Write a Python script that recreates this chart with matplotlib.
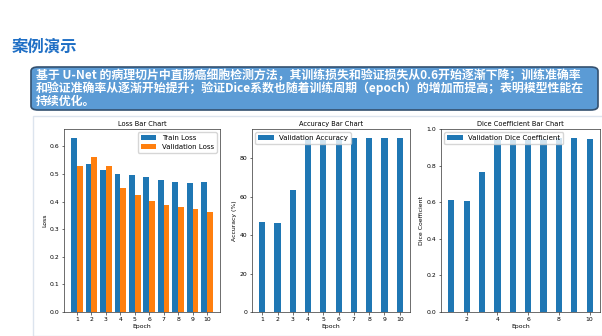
import matplotlib
matplotlib.use("Agg")
import matplotlib.pyplot as plt
from matplotlib.patches import FancyBboxPatch, Rectangle
import numpy as np

epochs = [1, 2, 3, 4, 5, 6, 7, 8, 9, 10]
train_loss = [0.631, 0.536, 0.514, 0.500, 0.495, 0.488, 0.477, 0.471, 0.468, 0.471]
val_loss = [0.530, 0.561, 0.530, 0.448, 0.424, 0.403, 0.387, 0.379, 0.373, 0.363]
val_acc = [47.0, 46.2, 63.5, 89.8, 89.6, 89.8, 90.6, 90.6, 90.2, 90.2]
val_dice = [0.615, 0.605, 0.768, 0.940, 0.940, 0.940, 0.945, 0.953, 0.953, 0.948]

slide_title = "案例演示"
box_lines = [
    "基于 U-Net 的病理切片中直肠癌细胞检测方法，其训练损失和验证损失从0.6开始逐渐下降；训练准确率",
    "和验证准确率从逐渐开始提升；验证Dice系数也随着训练周期（epoch）的增加而提高；表明模型性能在",
    "持续优化。",
]

W, H = 602, 336
fig = plt.figure(figsize=(W / 100, H / 100), dpi=100)
fig.patch.set_facecolor("white")
cjk = ["Noto Sans CJK SC", "DejaVu Sans"]

def fx(px):
    return px / W

def fy(py):
    return 1 - py / H

# Slide title
fig.text(fx(12), fy(47), slide_title, family=cjk, fontsize=11.8, fontweight="bold",
         color="#1f6fc5", va="center", ha="left")

# Blue rounded box
box = FancyBboxPatch((fx(31), fy(110)), fx(567), (110 - 67) / H,
                     boxstyle="round,pad=0,rounding_size=0.012",
                     transform=fig.transFigure, facecolor="#5b9bd5",
                     edgecolor="#34506e", linewidth=1.2, zorder=1)
fig.add_artist(box)
for i, line in enumerate(box_lines):
    fig.text(fx(36), fy(75.5 + i * 13), line, family=cjk, fontsize=8.6,
             fontweight="bold", color="white", va="center", ha="left", zorder=2)

# Embedded image frame
frame = Rectangle((fx(33), 0), fx(602 - 33) + 0.01, (336 - 116) / H,
                  transform=fig.transFigure, facecolor="white",
                  edgecolor="#dce4ee", linewidth=1.0, zorder=1)
fig.add_artist(frame)

small = 4.4
leg = 5.0
x = np.array(epochs)
w = 0.4

def style(ax):
    for s in ax.spines.values():
        s.set_linewidth(0.5)
        s.set_color("#333333")
    ax.tick_params(labelsize=small, length=1.8, width=0.4, pad=1.5)

ax1 = fig.add_axes([fx(64), 1 - 312 / H, fx(156), 183 / H], zorder=3)
ax1.bar(x - w / 2, train_loss, w, color="#1f77b4", label="Train Loss")
ax1.bar(x + w / 2, val_loss, w, color="#ff7f0e", label="Validation Loss")
ax1.set_xticks(epochs)
ax1.set_title("Loss Bar Chart", fontsize=4.8, pad=2.5)
ax1.set_xlabel("Epoch", fontsize=small, labelpad=1.5)
ax1.set_ylabel("Loss", fontsize=small, labelpad=2)
ax1.legend(fontsize=leg, loc="upper right", handlelength=2.2, borderpad=0.4,
           labelspacing=0.4, framealpha=0.8)
style(ax1)

ax2 = fig.add_axes([fx(252), 1 - 312 / H, fx(158), 183 / H], zorder=3)
ax2.bar(x, val_acc, w, color="#1f77b4", label="Validation Accuracy")
ax2.set_xticks(epochs)
ax2.set_title("Accuracy Bar Chart", fontsize=4.8, pad=2.5)
ax2.set_xlabel("Epoch", fontsize=small, labelpad=1.5)
ax2.set_ylabel("Accuracy (%)", fontsize=small, labelpad=2)
ax2.legend(fontsize=leg, loc="upper left", handlelength=2.2, borderpad=0.4,
           framealpha=0.8)
style(ax2)

ax3 = fig.add_axes([fx(441), 1 - 312 / H, fx(159), 183 / H], zorder=3)
ax3.bar(x, val_dice, w, color="#1f77b4", label="Validation Dice Coefficient")
ax3.set_title("Dice Coefficient Bar Chart", fontsize=4.8, pad=2.5)
ax3.set_xlabel("Epoch", fontsize=small, labelpad=1.5)
ax3.set_ylabel("Dice Coefficient", fontsize=small, labelpad=2)
ax3.legend(fontsize=leg, loc="upper left", handlelength=2.2, borderpad=0.4,
           framealpha=0.8)
style(ax3)

fig.savefig("out.png", dpi=100, facecolor="white")
